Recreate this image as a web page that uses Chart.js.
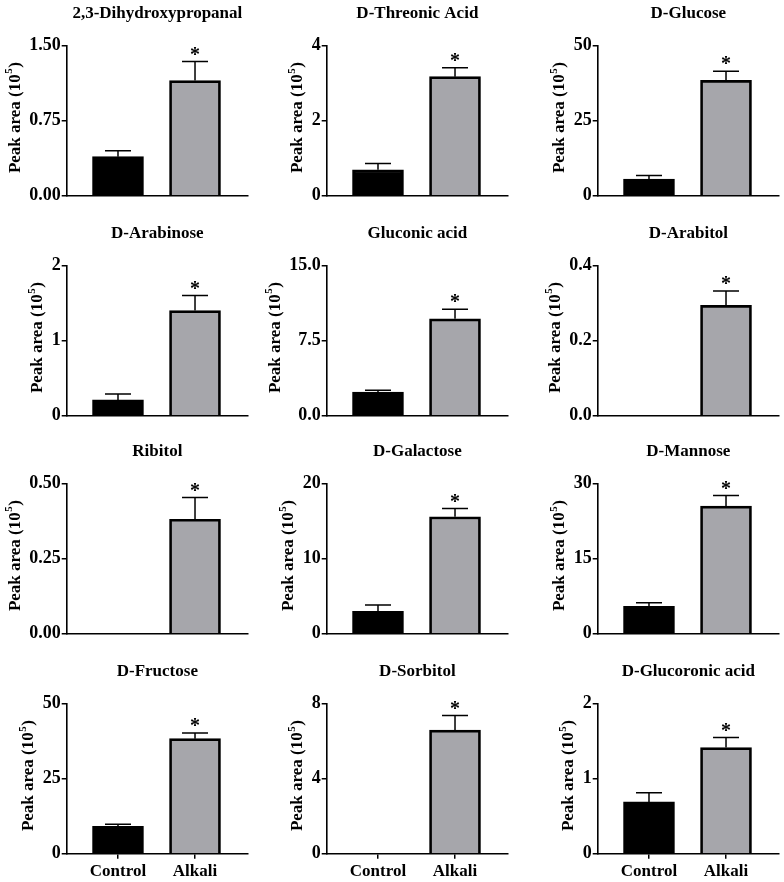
<!DOCTYPE html>
<html>
<head>
<meta charset="utf-8">
<script src="https://cdn.jsdelivr.net/npm/chart.js@4.4.1/dist/chart.umd.min.js"></script>
<style>
  html, body { margin: 0; padding: 0; background: #fff; }
  #wrap { position: relative; width: 784px; height: 882px; overflow: hidden; }
  #wrap canvas { position: absolute; }
</style>
</head>
<body>
<div id="wrap"></div>
<script>
// values (peak area, x10^5), mean and SEM
var metabolites = ['2,3-Dihydroxypropanal', 'D-Threonic Acid', 'D-Glucose',
                   'D-Arabinose', 'Gluconic acid', 'D-Arabitol',
                   'Ribitol', 'D-Galactose', 'D-Mannose',
                   'D-Fructose', 'D-Sorbitol', 'D-Glucoronic acid'];
var groups = ['Control', 'Alkali'];
var controlMean = [0.39, 0.69, 5.5, 0.21, 2.37, 0, 0, 2.98, 5.47, 9.11, 0, 0.69];
var controlSem  = [0.06, 0.17, 1.2, 0.08, 0.17, 0, 0, 0.84, 0.73, 0.67, 0, 0.12];
var alkaliMean  = [1.15, 3.17, 38.4, 1.40, 9.67, 0.294, 0.381, 15.56, 25.47, 38.3, 6.58, 1.413];
var alkaliSem   = [0.19, 0.24, 3.0, 0.20, 0.96, 0.038, 0.072, 1.11, 2.13, 1.9, 0.78, 0.134];
var alkaliMark  = ['*', '*', '*', '*', '*', '*', '*', '*', '*', '*', '*', '*'];
var yMax        = [1.5, 4, 50, 2, 15, 0.4, 0.5, 20, 30, 50, 8, 2];
var yDecimals   = [2, 0, 0, 0, 1, 1, 2, 0, 0, 0, 0, 0];

var FONT = '"Liberation Serif", "Times New Roman", serif';
var colLeft = [0, 260, 531.3];
var rowTop = [0, 220.2, 437.8, 657.8];
var AXIS_X = 66.7, PLOT_TOP = 45.5, PLOT_W = 181.3, PLOT_H = 150.2;

var decor = {
  id: 'decor',
  afterDatasetsDraw: function(chart, args, opts) {
    var i = opts.idx;
    var ctx = chart.ctx, ca = chart.chartArea, ys = chart.scales.y;
    var ds = chart.data.datasets[0], meta = chart.getDatasetMeta(0);
    ctx.save();
    // error bars (upper only) + significance mark
    ctx.strokeStyle = '#000';
    ctx.lineWidth = 1.5;
    meta.data.forEach(function(bar, k) {
      var v = ds.data[k].y;
      if (!(v > 0)) return;
      var top = ys.getPixelForValue(v + ds.sem[k]);
      ctx.beginPath();
      ctx.moveTo(bar.x, bar.y);
      ctx.lineTo(bar.x, top);
      ctx.moveTo(bar.x - 13, top);
      ctx.lineTo(bar.x + 13, top);
      ctx.stroke();
      if (ds.marks[k]) {
        ctx.fillStyle = '#000';
        ctx.font = 'bold 20px ' + FONT;
        ctx.textAlign = 'center';
        ctx.textBaseline = 'alphabetic';
        ctx.fillText(ds.marks[k], bar.x, top - 1);
      }
    });
    // panel title
    ctx.fillStyle = '#000';
    ctx.font = 'bold 17px ' + FONT;
    ctx.textAlign = 'center';
    ctx.textBaseline = 'middle';
    ctx.fillText(metabolites[i], (ca.left + ca.right) / 2, 13.5);
    // y axis title with superscript
    ctx.font = 'bold 18px ' + FONT;
    var maxW = 0;
    ys.ticks.forEach(function(t) {
      maxW = Math.max(maxW, ctx.measureText(t.value.toFixed(yDecimals[i])).width);
    });
    var tx = ca.left - 6 - maxW - 14;
    var ty = (ca.top + ca.bottom) / 2 - 3;
    ctx.translate(tx, ty);
    ctx.rotate(-Math.PI / 2);
    ctx.textAlign = 'left';
    ctx.font = 'bold 17px ' + FONT;
    var w1 = ctx.measureText('Peak area (10').width;
    var w3 = ctx.measureText(')').width;
    ctx.font = 'bold 11px ' + FONT;
    var w2 = ctx.measureText('5').width + 1;
    var x0 = -(w1 + w2 + w3) / 2;
    ctx.font = 'bold 17px ' + FONT;
    ctx.fillText('Peak area (10', x0, 0);
    ctx.fillText(')', x0 + w1 + w2, 0);
    ctx.font = 'bold 11px ' + FONT;
    ctx.fillText('5', x0 + w1 + 0.5, -6);
    ctx.restore();
  }
};

var wrap = document.getElementById('wrap');

function makePanel(i) {
  var r = Math.floor(i / 3), c = i % 3;
  var bottom = (r === 3);
  var H = bottom ? 224 : 220;
  var cv = document.createElement('canvas');
  cv.width = 262; cv.height = H;
  cv.style.width = '262px'; cv.style.height = H + 'px';
  cv.style.left = colLeft[c] + 'px';
  cv.style.top = rowTop[r] + 'px';
  wrap.appendChild(cv);

  new Chart(cv, {
    type: 'bar',
    data: {
      datasets: [{
        data: [{x: 0, y: controlMean[i]}, {x: 1, y: alkaliMean[i]}],
        backgroundColor: ['#000000', '#a6a6ab'],
        borderColor: '#000000',
        borderWidth: 2.7,
        barThickness: 51,
        sem: [controlSem[i], alkaliSem[i]],
        marks: ['', alkaliMark[i]]
      }]
    },
    options: {
      responsive: false,
      animation: false,
      layout: { padding: { left: 0, top: PLOT_TOP, right: 262 - AXIS_X - PLOT_W, bottom: 0 } },
      plugins: {
        legend: { display: false },
        tooltip: { enabled: false },
        decor: { idx: i }
      },
      scales: {
        x: {
          type: 'linear',
          min: -0.666, max: 1.688,
          offset: false,
          afterBuildTicks: function(s) { s.ticks = [{value: 0}, {value: 1}]; },
          afterFit: function(s) { s.height = H - PLOT_TOP - PLOT_H; },
          border: { display: true, color: '#000', width: 1.6 },
          grid: { display: true, offset: false, drawOnChartArea: false, drawTicks: bottom,
                  tickLength: 5, color: '#000', lineWidth: 1.5 },
          ticks: { display: bottom, padding: 3, color: '#000', maxRotation: 0, autoSkip: false,
                   font: { family: FONT, size: 17, weight: 'bold' },
                   callback: function(v) { return groups[v]; } }
        },
        y: {
          min: 0, max: yMax[i],
          afterBuildTicks: function(s) {
            s.ticks = [0, yMax[i] / 2, yMax[i]].map(function(v) { return {value: v}; });
          },
          afterFit: function(s) { s.width = AXIS_X; },
          border: { display: true, color: '#000', width: 1.6 },
          grid: { display: true, drawOnChartArea: false, drawTicks: true,
                  tickLength: 5, color: '#000', lineWidth: 1.5 },
          ticks: { padding: 1, color: '#000',
                   font: { family: FONT, size: 18, weight: 'bold' },
                   callback: function(v) { return Number(v).toFixed(yDecimals[i]); } }
        }
      }
    },
    plugins: [decor]
  });
}

for (var i = 0; i < metabolites.length; i++) makePanel(i);
</script>
</body>
</html>
